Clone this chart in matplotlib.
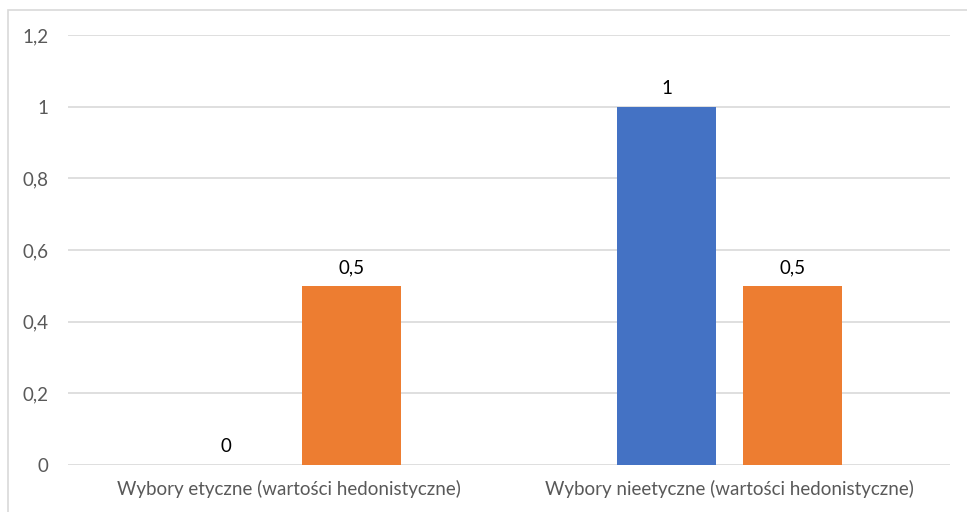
import matplotlib.pyplot as plt
from matplotlib.patches import Rectangle
import numpy as np

# ----------------------------------------------------------------------
# Data
# ----------------------------------------------------------------------
categories = ['Wybory etyczne (wartości hedonistyczne)',
              'Wybory nieetyczne (wartości hedonistyczne)']
series_blue = [0, 1]
series_orange = [0.5, 0.5]
yticks = [0, 0.2, 0.4, 0.6, 0.8, 1.0, 1.2]

plt.rcParams['font.family'] = ['Lato', 'DejaVu Sans']

fig = plt.figure(figsize=(9.67, 5.12), dpi=100)
ax = fig.add_axes([0.0703, 0.0918, 0.912, 0.8398])

# light border around the chart area
fig.patches.append(Rectangle((8 / 967, -0.1), 1.2, 1 - 10 / 512 + 0.1,
                             transform=fig.transFigure, fill=False,
                             edgecolor='#d9d9d9', linewidth=1.2))

x = np.arange(len(categories))
w = 0.2245
off = 0.1425
b1 = ax.bar(x - off, series_blue, w, color='#4472C4', zorder=3)
b2 = ax.bar(x + off, series_orange, w, color='#ED7D31', zorder=3)

def fmt(v):
    return f'{v:g}'.replace('.', ',')

for bars in (b1, b2):
    for r in bars:
        ax.annotate(fmt(r.get_height()), xy=(r.get_x() + r.get_width() / 2, r.get_height()),
                    xytext=(0, 7), textcoords='offset points',
                    ha='center', va='bottom', fontsize=13.5, color='black')

ax.set_xlim(-0.5, 1.5)
ax.set_ylim(0, 1.2)
ax.set_yticks(yticks)
ax.set_yticklabels([fmt(round(t, 1)) for t in yticks])
ax.set_xticks(x)
ax.set_xticklabels(categories)
ax.tick_params(axis='both', length=0, labelsize=13.5, colors='#595959')
ax.tick_params(axis='y', pad=14)
ax.tick_params(axis='x', pad=11)
ax.grid(axis='y', color='#d9d9d9', linewidth=1.2, zorder=0)
for s in ax.spines.values():
    s.set_visible(False)

plt.savefig('out.png', dpi=100)
